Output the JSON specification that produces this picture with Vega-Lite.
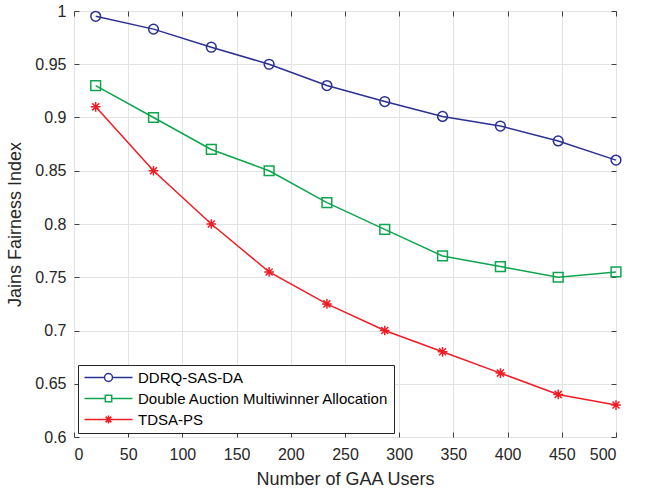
{
  "$schema": "https://vega.github.io/schema/vega-lite/v6.json",
  "width": 542,
  "height": 426,
  "autosize": {"type": "none"},
  "padding": {"left": 74, "top": 11, "right": 29, "bottom": 52},
  "background": "white",
  "config": {
    "font": "Liberation Sans",
    "view": {"stroke": "#404040", "strokeWidth": 1},
    "axis": {
      "labelFont": "Liberation Sans",
      "titleFont": "Liberation Sans",
      "labelFontSize": 16,
      "titleFontSize": 18,
      "titleFontWeight": "normal",
      "labelColor": "#262626",
      "titleColor": "#262626",
      "domain": false,
      "tickColor": "#404040",
      "tickSize": -5,
      "gridColor": "#e3e3e3",
      "gridWidth": 1
    },
    "legend": {
      "title": null, "orient": "bottom-left", "offset": 4,
      "strokeColor": "#262626", "fillColor": "white", "padding": 5,
      "symbolSize": 64, "symbolStrokeWidth": 1.5, "symbolOffset": 18,
      "labelOffset": 22, "labelFontSize": 15, "labelFont": "Liberation Sans",
      "labelColor": "#000000", "rowPadding": 5, "symbolOpacity": 1, "labelLimit": 400
    }
  },
  "data": {
    "values": [
      {"users": 20, "series": "DDRQ-SAS-DA", "jfi": 0.995},
      {"users": 73.33, "series": "DDRQ-SAS-DA", "jfi": 0.983},
      {"users": 126.67, "series": "DDRQ-SAS-DA", "jfi": 0.966},
      {"users": 180, "series": "DDRQ-SAS-DA", "jfi": 0.950},
      {"users": 233.33, "series": "DDRQ-SAS-DA", "jfi": 0.930},
      {"users": 286.67, "series": "DDRQ-SAS-DA", "jfi": 0.915},
      {"users": 340, "series": "DDRQ-SAS-DA", "jfi": 0.901},
      {"users": 393.33, "series": "DDRQ-SAS-DA", "jfi": 0.892},
      {"users": 446.67, "series": "DDRQ-SAS-DA", "jfi": 0.878},
      {"users": 500, "series": "DDRQ-SAS-DA", "jfi": 0.860},
      {"users": 20, "series": "Double Auction Multiwinner Allocation", "jfi": 0.930},
      {"users": 73.33, "series": "Double Auction Multiwinner Allocation", "jfi": 0.900},
      {"users": 126.67, "series": "Double Auction Multiwinner Allocation", "jfi": 0.870},
      {"users": 180, "series": "Double Auction Multiwinner Allocation", "jfi": 0.850},
      {"users": 233.33, "series": "Double Auction Multiwinner Allocation", "jfi": 0.820},
      {"users": 286.67, "series": "Double Auction Multiwinner Allocation", "jfi": 0.795},
      {"users": 340, "series": "Double Auction Multiwinner Allocation", "jfi": 0.770},
      {"users": 393.33, "series": "Double Auction Multiwinner Allocation", "jfi": 0.760},
      {"users": 446.67, "series": "Double Auction Multiwinner Allocation", "jfi": 0.750},
      {"users": 500, "series": "Double Auction Multiwinner Allocation", "jfi": 0.755},
      {"users": 20, "series": "TDSA-PS", "jfi": 0.910},
      {"users": 73.33, "series": "TDSA-PS", "jfi": 0.850},
      {"users": 126.67, "series": "TDSA-PS", "jfi": 0.800},
      {"users": 180, "series": "TDSA-PS", "jfi": 0.755},
      {"users": 233.33, "series": "TDSA-PS", "jfi": 0.725},
      {"users": 286.67, "series": "TDSA-PS", "jfi": 0.700},
      {"users": 340, "series": "TDSA-PS", "jfi": 0.680},
      {"users": 393.33, "series": "TDSA-PS", "jfi": 0.660},
      {"users": 446.67, "series": "TDSA-PS", "jfi": 0.640},
      {"users": 500, "series": "TDSA-PS", "jfi": 0.630}
    ]
  },
  "layer": [
    {
      "mark": {"type": "line", "strokeWidth": 1.5},
      "encoding": {
        "x": {
          "field": "users", "type": "quantitative",
          "scale": {"domain": [0, 500], "nice": false},
          "axis": {"values": [0, 50, 100, 150, 200, 250, 300, 350, 400, 450, 500], "title": "Number of GAA Users", "labelPadding": 14, "titlePadding": 8, "grid": true}
        },
        "y": {
          "field": "jfi", "type": "quantitative",
          "scale": {"domain": [0.6, 1], "nice": false, "zero": false},
          "axis": {"values": [0.6, 0.65, 0.7, 0.75, 0.8, 0.85, 0.9, 0.95, 1], "title": "Jains Fairness Index", "labelPadding": 13, "titlePadding": 10, "grid": true, "labelExpr": "datum.value == 1 ? '1' : replace(format(datum.value, '.2f'), /0$/, '')"}
        },
        "color": {
          "field": "series", "type": "nominal",
          "scale": {"domain": ["DDRQ-SAS-DA", "Double Auction Multiwinner Allocation", "TDSA-PS"], "range": ["#2b3190", "#0fa54e", "#ee1c25"]},
          "legend": null
        }
      }
    },
    {
      "mark": {"type": "point", "filled": false, "strokeWidth": 1.5, "opacity": 1},
      "encoding": {
        "x": {"field": "users", "type": "quantitative", "axis": {"orient": "top", "labels": false, "grid": false, "title": null, "values": [0, 50, 100, 150, 200, 250, 300, 350, 400, 450, 500]}},
        "y": {"field": "jfi", "type": "quantitative", "axis": {"orient": "right", "labels": false, "grid": false, "title": null, "values": [0.6, 0.65, 0.7, 0.75, 0.8, 0.85, 0.9, 0.95, 1]}},
        "color": {"field": "series", "type": "nominal", "legend": null},
        "shape": {
          "field": "series", "type": "nominal",
          "scale": {"domain": ["DDRQ-SAS-DA", "Double Auction Multiwinner Allocation", "TDSA-PS"], "range": ["circle", "square", "M-1,0L1,0M0,-1L0,1M-0.72,-0.72L0.72,0.72M-0.72,0.72L0.72,-0.72"]},
          "legend": null
        },
        "size": {"value": 95}
      }
    },
    {
      "mark": {"type": "point", "filled": false, "strokeWidth": 1.5, "opacity": 0},
      "encoding": {
        "x": {"field": "users", "type": "quantitative", "axis": null},
        "y": {"field": "jfi", "type": "quantitative", "axis": null},
        "color": {"field": "series", "type": "nominal", "legend": {}},
        "shape": {
          "field": "series", "type": "nominal",
          "scale": {"domain": ["DDRQ-SAS-DA", "Double Auction Multiwinner Allocation", "TDSA-PS"], "range": [
            "M-6,0L-1,0M1,0L6,0M-1,0A1,1 0 1,1 1,0A1,1 0 1,1 -1,0",
            "M-6,0L-0.8,0M0.8,0L6,0M-0.8,-0.8L0.8,-0.8L0.8,0.8L-0.8,0.8Z",
            "M-6,0L6,0M0,-1L0,1M-0.72,-0.72L0.72,0.72M-0.72,0.72L0.72,-0.72"
          ]},
          "legend": {}
        }
      }
    }
  ],
  "resolve": {
    "scale": {"shape": "independent"},
    "axis": {"x": "independent", "y": "independent"},
    "legend": {"color": "independent", "shape": "independent"}
  }
}
